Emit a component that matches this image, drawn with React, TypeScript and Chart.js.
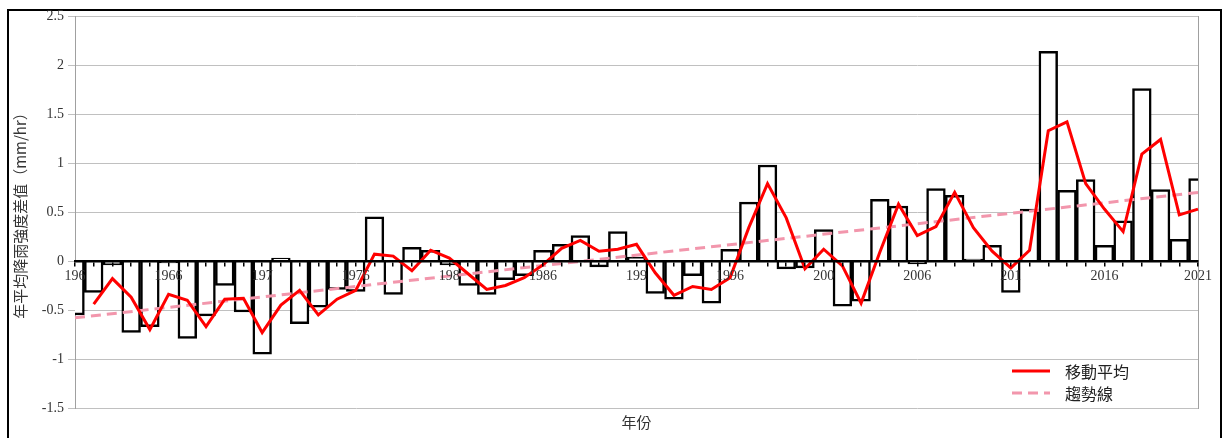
import { useEffect, useRef } from 'react';
import { Chart, registerables } from 'chart.js';

Chart.register(...registerables);

const years = [
  '1961', '1962', '1963', '1964', '1965', '1966', '1967', '1968', '1969', '1970',
  '1971', '1972', '1973', '1974', '1975', '1976', '1977', '1978', '1979', '1980',
  '1981', '1982', '1983', '1984', '1985', '1986', '1987', '1988', '1989', '1990',
  '1991', '1992', '1993', '1994', '1995', '1996', '1997', '1998', '1999', '2000',
  '2001', '2002', '2003', '2004', '2005', '2006', '2007', '2008', '2009', '2010',
  '2011', '2012', '2013', '2014', '2015', '2016', '2017', '2018', '2019', '2020',
  '2021',
];

const anomaly = [
  -0.55, -0.32, -0.04, -0.73, -0.67, -0.02, -0.79, -0.56, -0.25, -0.52,
  -0.95, 0.03, -0.64, -0.47, -0.29, -0.31, 0.45, -0.34, 0.14, 0.11,
  -0.04, -0.25, -0.34, -0.19, -0.15, 0.11, 0.17, 0.26, -0.06, 0.30,
  0.04, -0.33, -0.39, -0.15, -0.43, 0.12, 0.60, 0.98, -0.08, -0.07,
  0.32, -0.46, -0.41, 0.63, 0.56, -0.03, 0.74, 0.67, 0.02, 0.16,
  -0.32, 0.53, 2.14, 0.72, 0.83, 0.16, 0.41, 1.76, 0.73, 0.22,
  0.84,
];

const movingAverage = [
  null, -0.44, -0.18, -0.37, -0.70, -0.34, -0.40, -0.67, -0.39, -0.38,
  -0.73, -0.45, -0.30, -0.55, -0.39, -0.30, 0.07, 0.05, -0.10, 0.11,
  0.03, -0.13, -0.29, -0.25, -0.17, -0.04, 0.13, 0.21, 0.10, 0.12,
  0.17, -0.12, -0.35, -0.26, -0.29, -0.17, 0.34, 0.79, 0.44, -0.08,
  0.12, -0.05, -0.43, 0.09, 0.58, 0.26, 0.35, 0.70, 0.34, 0.10,
  -0.07, 0.11, 1.33, 1.42, 0.79, 0.53, 0.30, 1.09, 1.24, 0.47,
  0.53,
];

const trendYears = ['1961', '2021'];
const trendValues = [-0.58, 0.70];

const xTickLabels = ['196', '1966', '197', '1976', '198', '1986', '199', '1996', '200', '2006', '201', '2016', '2021'];

const seriesNames = ['移動平均', '趨勢線'];
const yTitle = '年平均降雨強度差值（mm/hr）';
const xTitle = '年份';

const legendPlugin = {
  id: 'insideLegend',
  afterDraw(chart: any) {
    const { ctx, chartArea } = chart;
    const items = chart.data.datasets.filter((d: any) => d.type === 'line');
    ctx.save();
    items.forEach((d: any, i: number) => {
      const y = chartArea.bottom - 37 + i * 22;
      const x0 = chartArea.right - 186;
      ctx.beginPath();
      ctx.setLineDash(d.borderDash || []);
      ctx.strokeStyle = d.borderColor;
      ctx.lineWidth = d.borderWidth;
      ctx.moveTo(x0, y);
      ctx.lineTo(x0 + 38, y);
      ctx.stroke();
      ctx.setLineDash([]);
      ctx.fillStyle = '#222';
      ctx.font = '16px "Noto Sans CJK TC"';
      ctx.textBaseline = 'middle';
      ctx.textAlign = 'left';
      ctx.fillText(d.label, x0 + 53, y + 1);
    });
    ctx.restore();
  },
};

export default function App() {
  const ref = useRef<HTMLCanvasElement | null>(null);

  useEffect(() => {
    if (!ref.current) return;
    const tickFont = { family: '"Liberation Serif", serif', size: 14 };
    const chart = new Chart(ref.current, {
      type: 'bar',
      data: {
        labels: years,
        datasets: [
          {
            type: 'line',
            label: seriesNames[0],
            data: movingAverage,
            borderColor: '#FF0000',
            borderWidth: 3,
            pointRadius: 0,
            tension: 0,
            order: 0,
          } as any,
          {
            type: 'line',
            label: seriesNames[1],
            data: trendYears.map((x, i) => ({ x, y: trendValues[i] })),
            borderColor: 'rgb(242,150,172)',
            borderWidth: 3,
            borderDash: [10, 6],
            pointRadius: 0,
            order: 1,
          } as any,
          {
            type: 'bar',
            label: 'anomaly',
            data: anomaly,
            backgroundColor: '#FFFFFF',
            borderColor: '#000000',
            borderWidth: 2.5,
            barPercentage: 1,
            categoryPercentage: 1,
            clip: 0,
            order: 2,
          } as any,
        ],
      },
      options: {
        animation: false,
        responsive: false,
        maintainAspectRatio: false,
        layout: { padding: { left: 0, right: 31, top: 16, bottom: 7 } },
        plugins: {
          legend: { display: false },
          tooltip: { enabled: false },
        },
        scales: {
          x: {
            type: 'category',
            position: { y: 0 } as any,
            offset: false,
            grid: { offset: false, drawOnChartArea: false, color: '#000', lineWidth: 1.5, tickLength: 4, z: 1 },
            border: { color: '#000', width: 2.5, z: 1 },
            ticks: {
              z: 1,
              autoSkip: false,
              maxRotation: 0,
              minRotation: 0,
              padding: 3,
              color: '#333',
              font: tickFont,
              callback: (_v: any, i: number) => (i % 5 === 0 ? xTickLabels[i / 5] : ''),
            },
          },
          x2: {
            type: 'category',
            position: 'bottom',
            offset: false,
            grid: { display: false, drawTicks: false },
            border: { display: false },
            ticks: { display: false },
            title: {
              display: true,
              text: xTitle,
              color: '#333',
              padding: { top: 5, bottom: 0 },
              font: { family: '"Noto Sans CJK TC"', size: 15 },
            },
          },
          y: {
            min: -1.5,
            max: 2.5,
            ticks: {
              stepSize: 0.5,
              padding: 4,
              color: '#333',
              font: tickFont,
              callback: (v: any) => String(Math.round(Number(v) * 10) / 10),
            },
            grid: { color: '#C0C0C0', lineWidth: 1, tickLength: 7 },
            border: { color: '#A0A0A0', width: 1 },
            title: {
              display: true,
              text: yTitle,
              color: '#333',
              padding: { top: 11, bottom: 0 },
              font: { family: '"Noto Sans CJK TC"', size: 15 },
            },
            afterFit: (s: any) => {
              s.width = 75;
            },
          },
          y2: {
            position: 'right',
            display: true,
            grid: { drawOnChartArea: false, drawTicks: false },
            ticks: { display: false },
            border: { color: '#A0A0A0', width: 1 },
            afterFit: (s: any) => {
              s.width = 0;
            },
          },
        } as any,
      },
      plugins: [legendPlugin],
    });
    return () => chart.destroy();
  }, []);

  return (
    <div style={{ position: 'fixed', left: 0, top: 0, width: 1229, height: 438, overflow: 'hidden', background: '#fff' }}>
      <div
        style={{
          position: 'absolute',
          left: 7,
          top: 9,
          width: 1215,
          height: 470,
          border: '2px solid #000',
          boxSizing: 'border-box',
        }}
      />
      <canvas ref={ref} width={1229} height={438} style={{ position: 'absolute', left: 0, top: 0, width: 1229, height: 438 }} />
    </div>
  );
}
